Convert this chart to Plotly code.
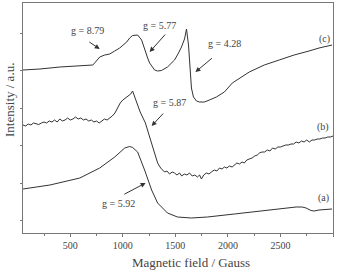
import plotly.graph_objects as go

# Curve (a)
field_a = [50, 306, 591, 780, 923, 1018, 1065, 1093, 1141, 1160, 1207, 1274, 1331, 1425, 1520,
           1653, 1805, 2061, 2298, 2488, 2649, 2706, 2744, 2791, 2820, 2867, 2991]
int_a = [44, 48, 55, 65, 76, 85, 86.5, 85.5, 81, 76, 63, 43, 30, 20, 16,
         15, 16, 19, 22, 24, 26, 26, 25, 22.5, 22, 23, 24]

# Curve (b)
field_b = [50, 75, 100, 125, 150, 175, 200, 225, 250, 275, 300, 325, 350, 375, 400, 425, 450, 475,
           500, 525, 550, 575, 600, 625, 650, 675, 700, 725, 750, 775, 800, 825, 850, 875, 900,
           925, 950, 975, 1000, 1025, 1050, 1075, 1093, 1112, 1141, 1165, 1188, 1215, 1235, 1255,
           1283, 1302, 1331, 1360, 1397, 1420, 1445, 1470, 1492, 1515, 1540, 1560, 1585, 1610,
           1635, 1660, 1685, 1710, 1730, 1748, 1770, 1795, 1820, 1843, 1870, 1895, 1920, 1945,
           1966, 1990, 2014, 2040, 2061, 2085, 2110, 2135, 2156, 2180, 2203, 2230, 2255, 2280,
           2300, 2325, 2350, 2375, 2400, 2425, 2450, 2475, 2500, 2525, 2550, 2575, 2600, 2625,
           2650, 2675, 2700, 2725, 2750, 2775, 2800, 2825, 2850, 2875, 2900, 2925, 2950, 2975, 3000]
int_b = [108, 107, 109, 108, 110, 109, 108.5, 110, 111, 110, 112, 111, 113, 111, 114, 112, 113, 115,
         113, 114, 116, 114, 115, 113, 114, 112, 113, 111, 112, 110, 112, 114, 113, 115, 117,
         120, 125, 130, 133, 135, 137, 139, 142, 137, 128, 121, 116, 110, 103, 96,
         85, 80, 70, 65, 61, 62, 59, 61, 60, 58, 60, 57, 59, 58,
         60, 57, 58, 56, 58, 54, 58, 60, 59, 61, 63, 62, 65, 64,
         66, 65, 67, 66, 68, 70, 69, 71, 70, 73, 74, 75, 77, 78,
         80, 81, 81, 83, 82, 85, 84, 86, 86, 87, 88, 88, 89, 89,
         91, 90, 92, 91, 93, 91, 93, 93, 94, 94, 95, 95, 96, 96, 97]

# Curve (c)
field_c = [50, 211, 401, 591, 686, 714, 740, 761, 780, 828, 875, 923, 970, 1037, 1065, 1093, 1141,
           1179, 1207, 1236, 1255, 1283, 1302, 1331, 1368, 1425, 1463, 1492, 1530, 1558, 1587, 1606,
           1625, 1634, 1644, 1653, 1672, 1701, 1729, 1776, 1824, 1890, 1966, 2042, 2203, 2346,
           2488, 2630, 2772, 2867, 2991]
int_c = [163, 164, 166, 167.5, 168, 168, 171, 174, 176, 178, 179, 182, 185, 191, 195, 197.5, 198,
         193, 183, 175, 170, 165, 163, 162, 162.5, 166, 170, 173, 180, 186, 194, 204,
         188, 173, 158, 145, 136, 132, 131, 131, 133, 136, 141, 150, 161, 168,
         173, 178, 182, 185, 188]

g_labels = ["g = 8.79", "g = 5.77", "g = 4.28", "g = 5.87", "g = 5.92"]
g_text_x = [667, 1350, 1966, 1444, 961]
g_text_y = [203, 208, 190, 131, 30]
g_tail_x = [667, 1416, 1862, 1397, 1000]
g_tail_y = [192, 200, 176, 121, 38]
g_head_x = [780, 1255, 1691, 1274, 1217]
g_head_y = [184, 181, 161, 107, 50]

curve_labels = ["(c)", "(b)", "(a)"]
curve_label_x = [2915, 2905, 2905]
curve_label_y = [194, 106, 35]

FONT = "Times New Roman, Liberation Serif, DejaVu Serif, serif"
LINE = "#333333"
TXT = "#444444"

W, H = 340, 270
L, R, T, B = 23, 7, 3, 37
pw, ph = W - L - R, H - T - B

fig = go.Figure()
for fx, iy in [(field_a, int_a), (field_b, int_b), (field_c, int_c)]:
    fig.add_trace(go.Scatter(x=fx, y=iy, mode="lines",
                             line=dict(color=LINE, width=1), showlegend=False))

ann = []
for t, tx, ty, ax_, ay_, hx, hy in zip(g_labels, g_text_x, g_text_y, g_tail_x, g_tail_y, g_head_x, g_head_y):
    ann.append(dict(x=tx, y=ty, xref="x", yref="y", text=t, showarrow=False,
                    xanchor="center", yanchor="middle",
                    font=dict(family=FONT, size=10, color=TXT)))
    ann.append(dict(x=hx, y=hy, ax=ax_, ay=ay_, xref="x", yref="y", axref="x", ayref="y",
                    text="", showarrow=True, arrowhead=2, arrowsize=1, arrowwidth=1,
                    arrowcolor=LINE))
for t, tx, ty in zip(curve_labels, curve_label_x, curve_label_y):
    ann.append(dict(x=tx, y=ty, xref="x", yref="y", text=t, showarrow=False,
                    xanchor="center", yanchor="middle",
                    font=dict(family=FONT, size=10, color=TXT)))
ann.append(dict(x=(191 - L) / pw, y=(H - B - 262) / ph, xref="paper", yref="paper",
                xanchor="center", yanchor="middle",
                text="Magnetic field / Gauss", showarrow=False,
                font=dict(family=FONT, size=13, color=TXT)))
ann.append(dict(x=(9 - L) / pw, y=(H - B - 100) / ph, xref="paper", yref="paper",
                xanchor="center", yanchor="middle",
                text="Intensity / a.u.", textangle=-90, showarrow=False,
                font=dict(family=FONT, size=13, color=TXT)))

fig.update_layout(
    width=W, height=H, margin=dict(l=L, r=R, t=T, b=B),
    paper_bgcolor="white", plot_bgcolor="white",
    annotations=ann,
    xaxis=dict(range=[50, 3000], tickvals=[500, 1000, 1500, 2000, 2500, 3000],
               ticks="outside", ticklen=3, tickcolor="#777", showgrid=False, zeroline=False,
               showline=True, linecolor="#777", linewidth=1, mirror=True,
               tickfont=dict(family=FONT, size=10, color=TXT),
               minor=dict(ticks="outside", ticklen=2, tickcolor="#777", dtick=250, tick0=250)),
    yaxis=dict(range=[0, 230], tick0=12.5, dtick=37.5, ticks="outside", ticklen=2,
               tickcolor="#777", showticklabels=False, showgrid=False, zeroline=False,
               showline=True, linecolor="#777", linewidth=1, mirror=True),
)
fig.write_html("out.html")
